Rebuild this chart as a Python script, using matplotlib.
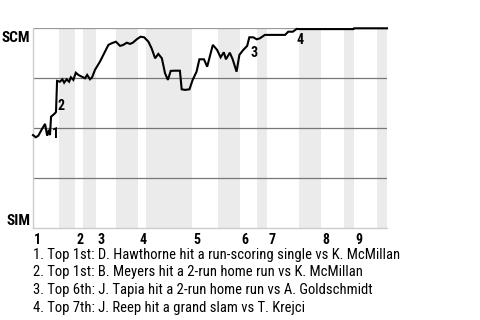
import matplotlib
matplotlib.use('Agg')
import matplotlib.pyplot as plt
from matplotlib import font_manager

names = {f.name for f in font_manager.fontManager.ttflist}
cond = [n for n in ['Roboto Condensed', 'Liberation Sans Narrow'] if n in names]
base_font = cond[0] if cond else 'Roboto'

# game progress (% of game) and win probability for SCM (%)
progress = [0, 0.8, 1.5, 2.5, 3.4, 4.0, 4.5, 4.8, 5.1, 5.7, 6.2, 6.5, 6.8, 7.6, 8.3, 8.8,
            9.5, 10.2, 10.7, 11.4, 12.1, 12.8, 13.8, 14.7, 15.3, 16.1, 16.7, 17.5, 18.9,
            20.1, 21.3, 22.2, 23.4, 24.6, 25.5, 26.5, 27.4, 28.2, 29.3, 30.4, 31.4, 32.6,
            33.5, 34.5, 35.4, 36.4, 37.3, 38.1, 38.9, 40.1, 41.5, 42.0, 42.9, 44.2, 45.1,
            46.2, 47.0, 48.3, 49.2, 50.8, 52.0, 53.0, 53.9, 54.5, 55.6, 56.4, 56.9, 57.5,
            58.3, 59.4, 60.5, 61.1, 62.2, 63.2, 64.1, 65.5, 71.2, 72.1, 73.4, 74.5, 75.4,
            90.5, 90.7, 100]
win_prob = [46.6, 45.5, 46.3, 49.5, 52.2, 46.3, 49.2, 46.6, 55.8, 56.7, 57.5, 58.2, 73.7,
            73.3, 74.5, 72.8, 74.5, 73.3, 75.5, 74.2, 77.8, 76.7, 75.8, 75.0, 76.7, 74.5,
            75.5, 79.2, 83.3, 87.5, 91.7, 92.5, 93.3, 91.2, 91.7, 92.8, 92.2, 92.8, 94.5,
            95.8, 95.5, 93.3, 90.0, 85.0, 87.2, 85.0, 77.5, 74.2, 78.7, 78.8, 78.8, 69.5,
            69.2, 69.5, 74.2, 78.3, 84.5, 84.5, 80.8, 91.7, 89.2, 85.5, 88.0, 84.5, 87.8,
            84.5, 81.7, 78.3, 86.7, 89.2, 91.2, 95.5, 95.5, 94.5, 95.0, 96.7, 96.7, 98.3,
            98.3, 99.7, 99.6, 99.6, 100, 100]

# half-inning start positions (top 1, bottom 1, top 2, ...) and end of game
half_starts = [0, 7.3, 11.9, 14.1, 17.8, 23.4, 29.7, 31.9, 44.9, 52.3, 58.5, 63.3,
               66.1, 75.1, 81.4, 87.9, 90.7, 97.2, 100]
innings = ['1', '2', '3', '4', '5', '6', '7', '8', '9']

# labelled events: number, position, win prob
event_nums = ['1', '2', '3', '4']
event_x = [5.4, 6.9, 61.3, 74.5]
event_y = [50.8, 64.8, 91.3, 97.8]
event_text = [
    '1. Top 1st: D. Hawthorne hit a run-scoring single vs K. McMillan',
    '2. Top 1st: B. Meyers hit a 2-run home run vs K. McMillan',
    '3. Top 6th: J. Tapia hit a 2-run home run vs A. Goldschmidt',
    '4. Top 7th: J. Reep hit a grand slam vs T. Krejci',
]

fig = plt.figure(figsize=(4.8, 3.2), dpi=100)
ax = fig.add_axes([33 / 480, 91.7 / 320, 354 / 480, 200 / 320])

for i in range(1, len(half_starts) - 1, 2):
    ax.axvspan(half_starts[i], half_starts[i + 1], color='#ebebeb', lw=0, zorder=0)

for y in [25, 50, 75]:
    ax.axhline(y, color='#777777', lw=0.9, zorder=1)
ax.axhline(100, color='#999999', lw=0.9, zorder=1)

ax.plot(progress, win_prob, color='black', lw=1.5, zorder=3, clip_on=False,
        solid_joinstyle='miter')

for n, x, y in zip(event_nums, event_x, event_y):
    ax.text(x, y, n, fontsize=10, fontweight='bold', family=base_font,
            ha='left', va='top', zorder=4)

ax.set_xlim(0, 100)
ax.set_ylim(0, 100)
ax.set_xticks([])
ax.set_yticks([])
for s in ['top', 'right']:
    ax.spines[s].set_visible(False)
for s in ['left', 'bottom']:
    ax.spines[s].set_color('#cccccc')
    ax.spines[s].set_linewidth(1.0)

ax.text(-0.008, 0.985, 'SCM', transform=ax.transAxes, ha='right', va='top',
        fontsize=11, fontweight='bold', family=base_font)
ax.text(-0.008, 0.0, 'SIM', transform=ax.transAxes, ha='right', va='bottom',
        fontsize=11, fontweight='bold', family=base_font)

for k, lab in enumerate(innings):
    ax.text(half_starts[2 * k] + 0.3, -2.5, lab, ha='left', va='top',
            fontsize=10, fontweight='bold', family=base_font)

for k, t in enumerate(event_text):
    fig.text(33 / 480, 1 - (258.5 + 17.8 * k) / 320, t, ha='left', va='baseline',
             fontsize=10.5, family=base_font)

fig.savefig('out.png', dpi=100)
